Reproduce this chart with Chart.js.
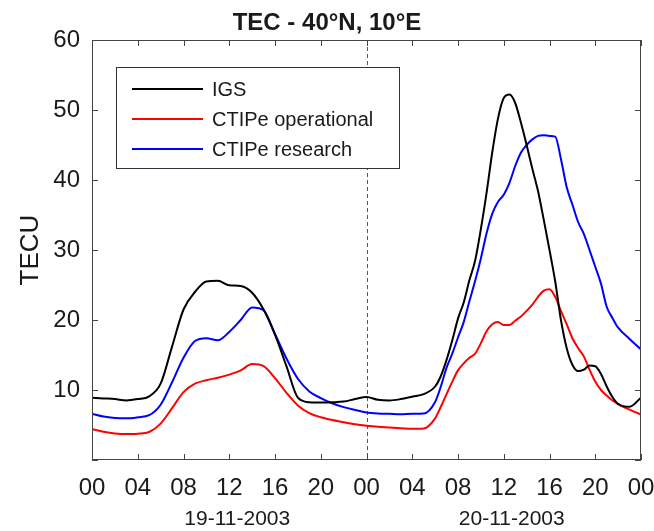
<!DOCTYPE html>
<html lang="en">

<head>
    <meta charset="UTF-8">
    <meta name="viewport" content="width=device-width, initial-scale=1.0">
    <script src="https://cdn.jsdelivr.net/npm/chart.js"></script>
    <title>TEC - 40°N, 10°E</title>
</head>

<body>
    <div class="chart-wrapper">
        <canvas id="tecChart"></canvas>
    </div>
    <style>
        body {
            background-color: #fff;
            margin: 0;
        }

        .chart-wrapper {
            position: relative;
            width: 654px;
            height: 531px;
        }
    </style>
    <script>
        // hours since 00 UT on 19-11-2003 (half-hour steps through the storm on day two)
        const hours = [
            0, 1, 2, 3, 4, 5, 6, 7, 8, 9, 10, 11, 12, 13, 14, 15, 16, 17, 18, 19,
            20, 21, 22, 23, 24, 25, 26, 27, 28, 29,
            30, 30.5, 31, 31.5, 32, 32.5, 33, 33.5, 34, 34.5, 35, 35.5, 36, 36.5, 37, 37.5,
            38, 38.5, 39, 39.5, 40, 40.5, 41, 41.5, 42, 42.5, 43, 43.5, 44, 44.5, 45, 45.5, 46,
            47, 48
        ];

        const igs = [
            8.9, 8.8, 8.7, 8.5, 8.7, 9.1, 10.9, 16.2, 21.5, 24.0, 25.5, 25.6, 24.95, 24.85, 23.9, 21.5, 17.9, 13.4, 8.9, 8.25,
            8.2, 8.25, 8.35, 8.7, 9.0, 8.6, 8.5, 8.7, 9.05, 9.4,
            10.5, 12.0, 14.3, 17.1, 20.2, 22.5, 25.7, 28.5, 33.0, 38.2, 44.0, 48.8, 51.7, 52.2, 51.0, 48.2,
            45.0, 41.6, 38.4, 34.3, 30.0, 25.5, 20.0, 16.0, 13.6, 12.7, 12.9, 13.5, 13.4, 12.3, 10.5, 9.0, 8.0,
            7.6, 8.9
        ];

        const ctipeOperational = [
            4.4, 4.05, 3.8, 3.7, 3.75, 4.0, 5.2, 7.4, 9.7, 10.9, 11.4, 11.75, 12.2, 12.8, 13.7, 13.4, 11.7, 9.6, 7.8, 6.7,
            6.1, 5.7, 5.4, 5.1, 4.9, 4.75, 4.65, 4.55, 4.45, 4.5,
            5.95, 7.6, 9.4, 11.2, 12.8, 13.8, 14.6, 15.2, 16.7, 18.4, 19.4, 19.7, 19.3, 19.3, 19.9, 20.5,
            21.3, 22.2, 23.3, 24.2, 24.4, 23.3, 21.3, 19.4, 17.4, 16.0, 14.8, 12.9, 11.2, 10.0, 9.2, 8.5, 8.0,
            7.2, 6.5
        ];

        const ctipeResearch = [
            6.6, 6.2, 6.0, 5.95, 6.1, 6.4, 7.9, 11.1, 14.6, 17.0, 17.4, 17.1, 18.3, 20.0, 21.8, 21.4, 18.0, 14.5, 11.6, 9.8,
            8.85, 8.1, 7.55, 7.15, 6.8, 6.65, 6.6, 6.55, 6.6, 6.65,
            8.3, 10.5, 13.2, 15.2, 17.5, 19.7, 22.7, 25.6, 28.8, 32.4, 35.2, 36.9, 37.9, 39.6, 42.0, 43.9,
            45.0, 45.8, 46.3, 46.4, 46.3, 46.2, 43.0, 39.0, 36.5, 34.0, 32.3, 30.0, 27.6, 25.2, 21.9, 20.3, 18.9,
            17.3, 15.8
        ];

        const seriesLabels = ["IGS", "CTIPe operational", "CTIPe research"];
        const dayLabels = ["19-11-2003", "20-11-2003"];
        const dayCentres = [12.7, 36.7];
        const midnight = 24;

        const FONT = "'Liberation Sans', Arial, Helvetica, sans-serif";
        const INK = "#1a1a1a";

        const toPoints = (values) => hours.map((h, i) => ({ x: h, y: values[i] }));

        // box, inward ticks on all four sides, day labels and the legend
        const axesBox = {
            id: "axesBox",
            beforeDatasetsDraw(chart) {
                const { ctx, chartArea: a, scales: { x } } = chart;
                const px = Math.round(x.getPixelForValue(midnight)) + 0.5;
                ctx.save();
                ctx.strokeStyle = "#555";
                ctx.lineWidth = 1;
                ctx.setLineDash([4, 3]);
                ctx.beginPath();
                ctx.moveTo(px, a.top);
                ctx.lineTo(px, a.bottom);
                ctx.stroke();
                ctx.restore();
            },
            afterDraw(chart) {
                const { ctx, chartArea: a, scales: { x, y } } = chart;
                const tick = 6;
                ctx.save();
                ctx.strokeStyle = "#444";
                ctx.lineWidth = 1;
                ctx.strokeRect(a.left + 0.5, a.top + 0.5, a.right - a.left - 1, a.bottom - a.top - 1);
                ctx.beginPath();
                x.ticks.forEach(t => {
                    const p = Math.round(x.getPixelForValue(t.value)) + 0.5;
                    ctx.moveTo(p, a.bottom);
                    ctx.lineTo(p, a.bottom - tick);
                    ctx.moveTo(p, a.top);
                    ctx.lineTo(p, a.top + tick);
                });
                y.ticks.forEach(t => {
                    const p = Math.round(y.getPixelForValue(t.value)) + 0.5;
                    ctx.moveTo(a.left, p);
                    ctx.lineTo(a.left + tick, p);
                    ctx.moveTo(a.right, p);
                    ctx.lineTo(a.right - tick, p);
                });
                ctx.stroke();

                // day labels under the hour ticks
                ctx.fillStyle = INK;
                ctx.font = `21px ${FONT}`;
                ctx.textAlign = "center";
                ctx.textBaseline = "middle";
                dayLabels.forEach((d, i) => ctx.fillText(d, x.getPixelForValue(dayCentres[i]), a.bottom + 59));

                // legend box in the upper left of the plot
                const box = { left: a.left + 24, top: a.top + 27, width: 283, height: 101 };
                ctx.fillStyle = "#fff";
                ctx.fillRect(box.left, box.top, box.width, box.height);
                ctx.strokeStyle = "#333";
                ctx.strokeRect(box.left + 0.5, box.top + 0.5, box.width, box.height);
                ctx.font = `20px ${FONT}`;
                ctx.textAlign = "left";
                chart.data.datasets.forEach((ds, i) => {
                    const rowY = box.top + 22 + i * 30;
                    ctx.strokeStyle = ds.borderColor;
                    ctx.lineWidth = 2;
                    ctx.beginPath();
                    ctx.moveTo(box.left + 16, rowY);
                    ctx.lineTo(box.left + 87, rowY);
                    ctx.stroke();
                    ctx.fillStyle = INK;
                    ctx.fillText(ds.label, box.left + 96, rowY + 1);
                });
                ctx.restore();
            }
        };

        Chart.defaults.font.family = FONT;
        Chart.defaults.color = INK;

        new Chart(document.getElementById("tecChart"), {
            type: "line",
            data: {
                datasets: [
                    { label: seriesLabels[0], data: toPoints(igs), borderColor: "#000000" },
                    { label: seriesLabels[1], data: toPoints(ctipeOperational), borderColor: "#ff0000" },
                    { label: seriesLabels[2], data: toPoints(ctipeResearch), borderColor: "#0000ff" }
                ]
            },
            options: {
                responsive: true,
                maintainAspectRatio: false,
                animation: false,
                layout: { padding: { left: 0, right: 0, top: 0, bottom: 0 } },
                elements: {
                    point: { radius: 0 },
                    line: { borderWidth: 2, cubicInterpolationMode: "monotone" }
                },
                scales: {
                    x: {
                        type: "linear",
                        min: 0,
                        max: 48,
                        grid: { display: false, drawTicks: false, tickLength: 0 },
                        border: { display: false },
                        ticks: {
                            stepSize: 4,
                            autoSkip: false,
                            maxRotation: 0,
                            padding: 14,
                            font: { size: 24 },
                            callback: (v) => String(v % 24).padStart(2, "0")
                        },
                        afterFit: (scale) => {
                            scale.height = 71;
                            // leave just room for half of the last "00"
                            scale.paddingLeft = 0;
                            scale.paddingRight = 13;
                        }
                    },
                    y: {
                        min: 0,
                        max: 60,
                        grid: { display: false, drawTicks: false, tickLength: 0 },
                        border: { display: false },
                        ticks: {
                            stepSize: 10,
                            padding: 12,
                            font: { size: 24 },
                            callback: (v) => (v === 0 ? "" : v)
                        },
                        title: {
                            display: true,
                            text: "TECU",
                            font: { size: 26 },
                            padding: { top: 15, bottom: 0 }
                        },
                        afterFit: (scale) => { scale.width = 92; }
                    }
                },
                plugins: {
                    legend: { display: false },
                    tooltip: { enabled: false },
                    title: {
                        display: true,
                        text: "TEC - 40°N, 10°E",
                        color: INK,
                        font: { size: 24, weight: "bold" },
                        padding: { top: 9, bottom: 2.2 }
                    }
                }
            },
            plugins: [axesBox]
        });
    </script>
</body>

</html>
